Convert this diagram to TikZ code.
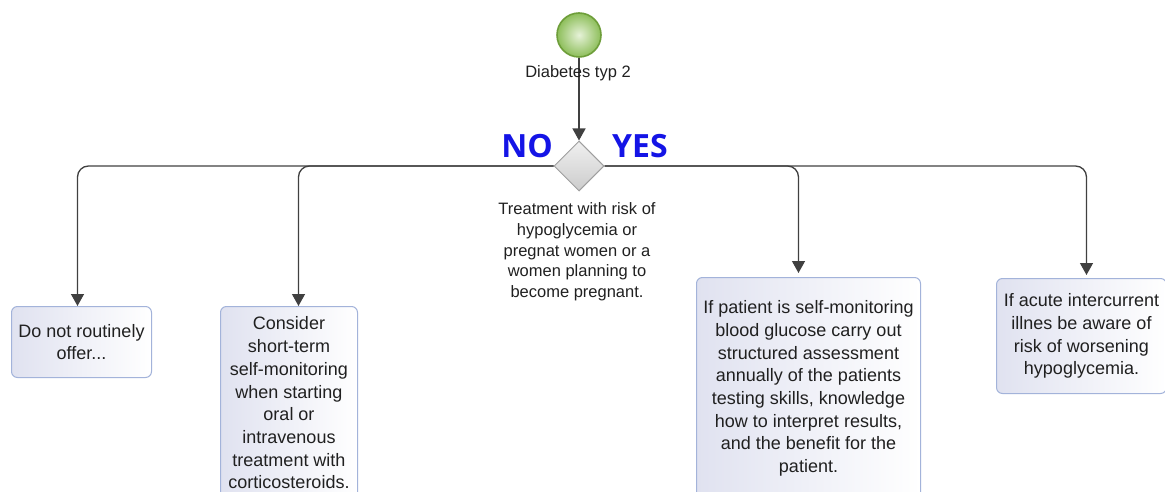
\documentclass[tikz,border=0pt]{standalone}
\usepackage{fontspec}
\setmainfont{Liberation Sans}
\newfontfamily\answerfont{Open Sans}
\usetikzlibrary{arrows.meta,shapes.geometric}

\definecolor{flowline}{HTML}{404040}
\definecolor{boxedge}{HTML}{A3B3DA}
\definecolor{boxfill}{HTML}{E0E2F0}
\definecolor{answerblue}{HTML}{1414E6}
\definecolor{textdark}{HTML}{202020}
\definecolor{startedge}{HTML}{6E9E3A}
\definecolor{startout}{HTML}{8DBE5A}
\definecolor{startin}{HTML}{E6F2D8}

\tikzset{
  flow/.style={draw=flowline, line width=1.3pt, rounded corners=11pt,
    -{Triangle[width=13pt,length=12pt]}},
  stepbox/.style={draw=boxedge, line width=1pt, rounded corners=6pt,
    left color=boxfill, right color=white, anchor=north west,
    align=center, inner sep=2pt, text=textdark,
    font=\fontsize{18}{22.7}\selectfont},
  caption/.style={align=center, text=textdark, inner sep=0pt,
    font=\fontsize{16.5}{20.7}\selectfont},
  answer/.style={text=answerblue, inner sep=0pt,
    font=\answerfont\bfseries\fontsize{32}{32}\selectfont},
  startnode/.style={circle, minimum size=44pt, inner sep=0pt,
    draw=startedge, line width=1.6pt,
    inner color=startin, outer color=startout},
  decision/.style={diamond, minimum width=50pt, minimum height=50pt,
    inner sep=0pt, draw=gray!75, line width=1pt,
    top color=gray!12, bottom color=gray!40},
}

\begin{document}
\begin{tikzpicture}[x=1pt,y=-1pt]
\useasboundingbox (0,0) rectangle (1165,492);
\clip (0,0) rectangle (1165,492);

% start event and the decision
\node[startnode] (start) at (579,35) {};
\node[decision] (dec) at (579,166) {};
\draw[flow] (start.south) -- (dec.north);
\node[caption] (startlbl) at (578,73) {Diabetes typ 2};
\node[caption] (declbl) at (577,252)
  {Treatment with risk of\\hypoglycemia or\\pregnat women or a\\women planning to\\become pregnant.};
\node[answer] (no) at (527,146) {NO};
\node[answer] (yes) at (640,146) {YES};

% outcome boxes
\node[stepbox, minimum width=140pt, minimum height=71pt] (b1) at (11,306)
  {Do not routinely\\offer...};
\node[stepbox, minimum width=137pt, minimum height=193pt] (b2) at (220,306)
  {Consider\\short-term\\self-monitoring\\when starting\\oral or\\intravenous\\treatment with\\corticosteroids.};
\node[stepbox, minimum width=224pt, minimum height=222pt] (b3) at (696,277)
  {If patient is self-monitoring\\blood glucose carry out\\structured assessment\\annually of the patients\\testing skills, knowledge\\how to interpret results,\\and the benefit for the\\patient.};
\node[stepbox, minimum width=170pt, minimum height=115pt] (b4) at (996,278)
  {If acute intercurrent\\illnes be aware of\\risk of worsening\\hypoglycemia.};

% branches
\draw[flow] (dec.west) -| ([xshift=-4pt]b1.north);
\draw[flow] (dec.west) -| ([xshift=9.5pt]b2.north);
\draw[flow, shorten >=4pt] (dec.east) -| ([xshift=-10pt]b3.north);
\draw[flow, shorten >=3pt] (dec.east) -| ([xshift=5pt]b4.north);
\end{tikzpicture}
\end{document}
